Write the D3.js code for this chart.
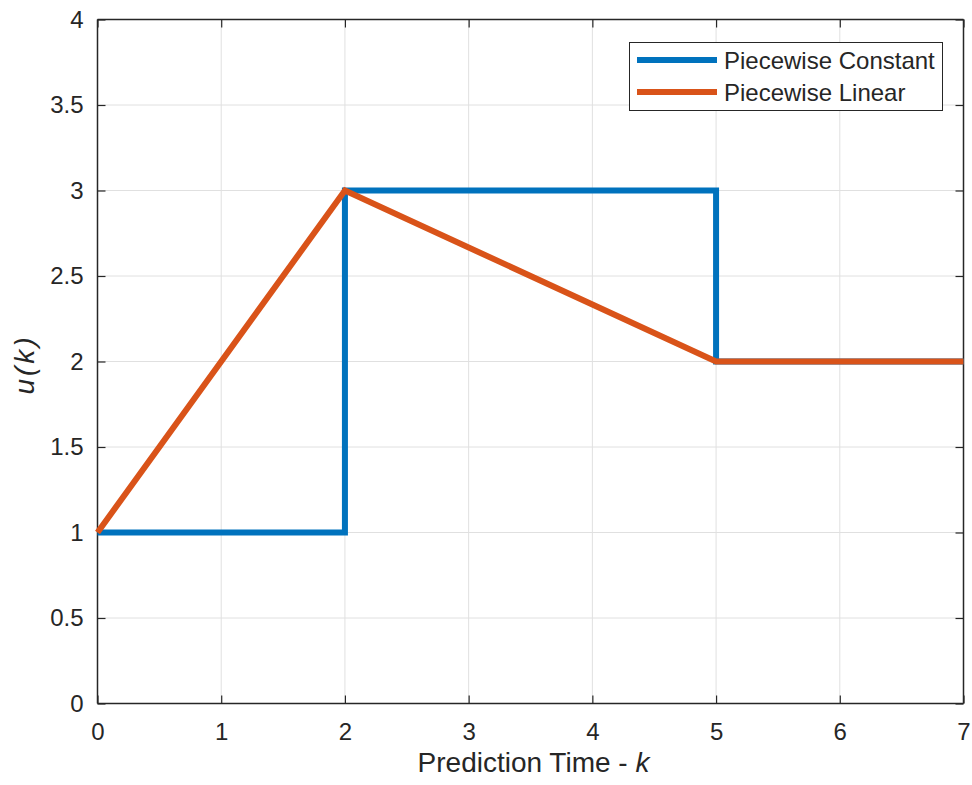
<!DOCTYPE html>
<html>
<head>
<meta charset="utf-8">
<script src="https://cdn.jsdelivr.net/npm/d3@7"></script>
<style>
  body { margin: 0; background: #fff; }
  text { font-family: "Liberation Sans", Arial, sans-serif; fill: #262626; }
</style>
</head>
<body>
<svg id="chart" width="972" height="785"></svg>
<script>
// Data
const constantX = [0, 2, 2, 5, 5, 7];
const constantY = [1, 1, 3, 3, 2, 2];
const linearX = [0, 2, 5, 7];
const linearY = [1, 3, 2, 2];
const xTicks = [0, 1, 2, 3, 4, 5, 6, 7];
const yTicks = [0, 0.5, 1, 1.5, 2, 2.5, 3, 3.5, 4];
const seriesNames = ["Piecewise Constant", "Piecewise Linear"];
const seriesColors = ["#0072BD", "#D95319"];

const svg = d3.select("#chart");
const L = 97.5, R = 963.5, T = 19.5, B = 703.5;
const x = d3.scaleLinear().domain([0, 7]).range([L, R]);
const y = d3.scaleLinear().domain([0, 4]).range([B, T]);

// grid
const g = svg.append("g");
g.selectAll(".gx").data(xTicks).enter().append("line")
  .attr("x1", d => x(d)).attr("x2", d => x(d)).attr("y1", T).attr("y2", B)
  .attr("stroke", "#e0e0e0").attr("stroke-width", 1);
g.selectAll(".gy").data(yTicks).enter().append("line")
  .attr("y1", d => y(d)).attr("y2", d => y(d)).attr("x1", L).attr("x2", R)
  .attr("stroke", "#e0e0e0").attr("stroke-width", 1);

// axes (ticks inward, all four sides)
const tl = 8;
const axB = d3.axisBottom(x).tickValues(xTicks).tickSize(-tl).tickPadding(19).tickFormat(d3.format("d"));
const axT = d3.axisTop(x).tickValues(xTicks).tickSize(-tl).tickFormat("");
const axL = d3.axisLeft(y).tickValues(yTicks).tickSize(-tl).tickPadding(14).tickFormat(d => d3.format("")(d));
const axR = d3.axisRight(y).tickValues(yTicks).tickSize(-tl).tickFormat("");

function style(sel) {
  sel.selectAll("path.domain").attr("stroke", "#262626").attr("stroke-width", 1.5);
  sel.selectAll(".tick line").attr("stroke", "#262626").attr("stroke-width", 1.2);
  sel.selectAll(".tick text").attr("fill", "#262626").style("font-size", "24px")
    .style("font-family", '"Liberation Sans", Arial, sans-serif');
}
const gb = svg.append("g").attr("transform", `translate(0,${B})`).call(axB); style(gb);
const gt = svg.append("g").attr("transform", `translate(0,${T})`).call(axT); style(gt);
const gl = svg.append("g").attr("transform", `translate(${L},0)`).call(axL); style(gl);
const gr = svg.append("g").attr("transform", `translate(${R},0)`).call(axR); style(gr);
gb.selectAll("path.domain").attr("d", `M${L},0H${R}`);
gt.selectAll("path.domain").attr("d", `M${L},0H${R}`);
gl.selectAll("path.domain").attr("d", `M0,${T}V${B}`);
gr.selectAll("path.domain").attr("d", `M0,${T}V${B}`);

// lines
const line = d3.line().x(d => x(d[0])).y(d => y(d[1]));
const dataC = constantX.map((v, i) => [v, constantY[i]]);
const dataL = linearX.map((v, i) => [v, linearY[i]]);
[dataC, dataL].forEach((dat, i) => {
  svg.append("path").datum(dat).attr("d", line)
    .attr("fill", "none").attr("stroke", seriesColors[i]).attr("stroke-width", 6)
    .attr("stroke-linejoin", "miter").attr("stroke-linecap", "butt");
});

// axis labels
const xl = svg.append("text").attr("x", (L + R) / 2 + 3).attr("y", 772)
  .attr("text-anchor", "middle").style("font-size", "28px");
xl.append("tspan").text("Prediction Time - ");
xl.append("tspan").style("font-style", "italic").text("k");

svg.append("text").attr("transform", `translate(34,${(T + B) / 2 + 3}) rotate(-90)`)
  .attr("text-anchor", "middle").style("font-size", "28px").style("font-style", "italic")
  .style("letter-spacing", "3px").text("u(k)");

// legend
const lg = svg.append("g");
lg.append("rect").attr("x", 629.5).attr("y", 42.5).attr("width", 313).attr("height", 68)
  .attr("fill", "#fff").attr("stroke", "#262626").attr("stroke-width", 1);
seriesNames.forEach((nm, i) => {
  const yy = 60 + i * 32;
  lg.append("line").attr("x1", 637).attr("x2", 717).attr("y1", yy).attr("y2", yy)
    .attr("stroke", seriesColors[i]).attr("stroke-width", 6);
  lg.append("text").attr("x", 724).attr("y", yy + 9).style("font-size", "24px").text(nm);
});
</script>
</body>
</html>
